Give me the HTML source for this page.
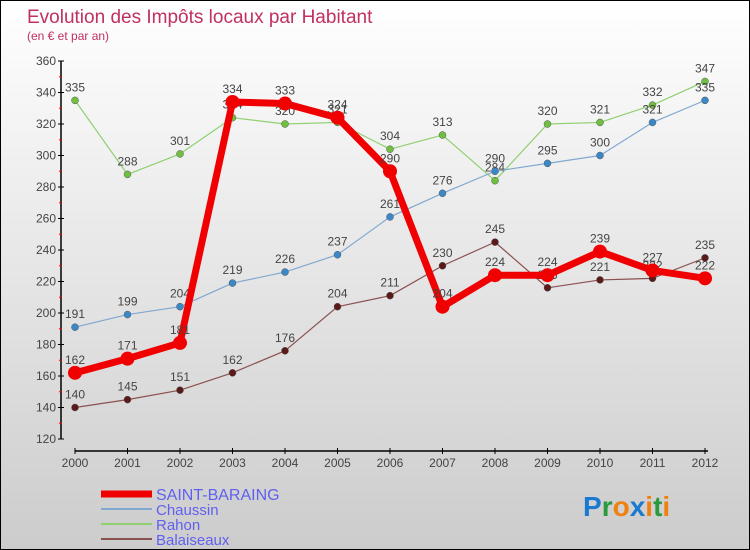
<!DOCTYPE html>
<html><head><meta charset="utf-8"><style>
body{margin:0}
#c{width:748px;height:548px;border:1px solid #000;background:linear-gradient(#fff,#ccc);position:relative;overflow:hidden;font-family:"Liberation Sans",sans-serif}
</style></head><body>
<div id="c">
<svg id="s" width="748" height="548"></svg>
</div>
<script>
const years=["2000","2001","2002","2003","2004","2005","2006","2007","2008","2009","2010","2011","2012"];
const yTicks=[120,140,160,180,200,220,240,260,280,300,320,340,360];
const saint=[162,171,181,334,333,324,290,204,224,224,239,227,222];
const chaussin=[191,199,204,219,226,237,261,276,290,295,300,321,335];
const rahon=[335,288,301,324,320,321,304,313,284,320,321,332,347];
const balai=[140,145,151,162,176,204,211,230,245,216,221,222,235];
const NS="http://www.w3.org/2000/svg";
const s=document.getElementById('s');
const X=i=>74+i*52.5, Y=v=>60+(360-v)*1.575;
function el(t,a,txt){const e=document.createElementNS(NS,t);for(const k in a)e.setAttribute(k,a[k]);if(txt!=null)e.textContent=txt;s.appendChild(e);return e;}
let e;
e=el('text',{x:26,y:22,'font-size':19,fill:'#c03060'},'Evolution des Impôts locaux par Habitant');


e=el('text',{x:26,y:39,'font-size':12,fill:'#c03060'},'(en € et par an)');


// y axis
e=el('line',{x1:60,y1:Y(360),x2:60,y2:Y(120),stroke:'#000','stroke-width':1.5});


yTicks.forEach(v=>{
 el('line',{x1:57,y1:Y(v),x2:63,y2:Y(v),stroke:'#000'});
 e=el('text',{x:55,y:Y(v)+4,'font-size':12,'text-anchor':'end',fill:'#444'},v);
 
 
 if(v<360) el('line',{x1:58,y1:Y(v+10),x2:61,y2:Y(v+10),stroke:'#f00'});
});
// x axis
e=el('line',{x1:X(0),y1:450,x2:X(12)+3,y2:450,stroke:'#000','stroke-width':1.5});


years.forEach((y,i)=>{
 el('line',{x1:X(i),y1:447,x2:X(i),y2:453,stroke:'#000'});
 e=el('text',{x:X(i),y:466,'font-size':12,'text-anchor':'middle',fill:'#444'},y);
 
 
});
function series(d,col,w,r,dot,name){
 e=el('polyline',{points:d.map((v,i)=>X(i)+','+Y(v)).join(' '),fill:'none',stroke:col,'stroke-width':w,'stroke-linejoin':'round'});
 
 
 d.forEach((v,i)=>{
  e=el('circle',{cx:X(i),cy:Y(v),r:r,fill:dot,stroke:'#555','stroke-width':w>3?0:0.5});
  
  
  e=el('text',{x:X(i),y:Y(v)-9,'font-size':12,'text-anchor':'middle',fill:'#444'},v);
  
  
 });
}
series(balai,'#8b5050',1.2,3.5,'#5a1a1a','balaiseaux');
series(rahon,'#90d070',1.2,3.5,'#70c040','rahon');
series(chaussin,'#80a8d0',1.2,3.5,'#3a88c8','chaussin');
series(saint,'#f00000',7,7,'#f00000','saint-baraing');
// legend
const leg=[['SAINT-BARAING','#f00000',7,16],['Chaussin','#80a8d0',2,15],['Rahon','#90d070',2,15],['Balaiseaux','#8b5050',2,15]];
leg.forEach((l,i)=>{
 const y=493+i*15;
 e=el('line',{x1:100,y1:y,x2:151,y2:y,stroke:l[1],'stroke-width':l[2]});
 
 
 e=el('text',{x:155,y:y+6,'font-size':l[3],fill:'#6060f0'},l[0]);
 
 
});
e=el('text',{x:582,y:515,'font-size':28,'font-weight':'bold'});


[['P','#1a7ad0'],['r','#2a9a40'],['o','#f08010'],['x','#1a7ad0'],['i','#f08010'],['t','#2a9a40'],['i','#f08010']].forEach(c=>{const t=document.createElementNS(NS,'tspan');t.setAttribute('fill',c[1]);t.textContent=c[0];e.appendChild(t);});
</script>
</body></html>
